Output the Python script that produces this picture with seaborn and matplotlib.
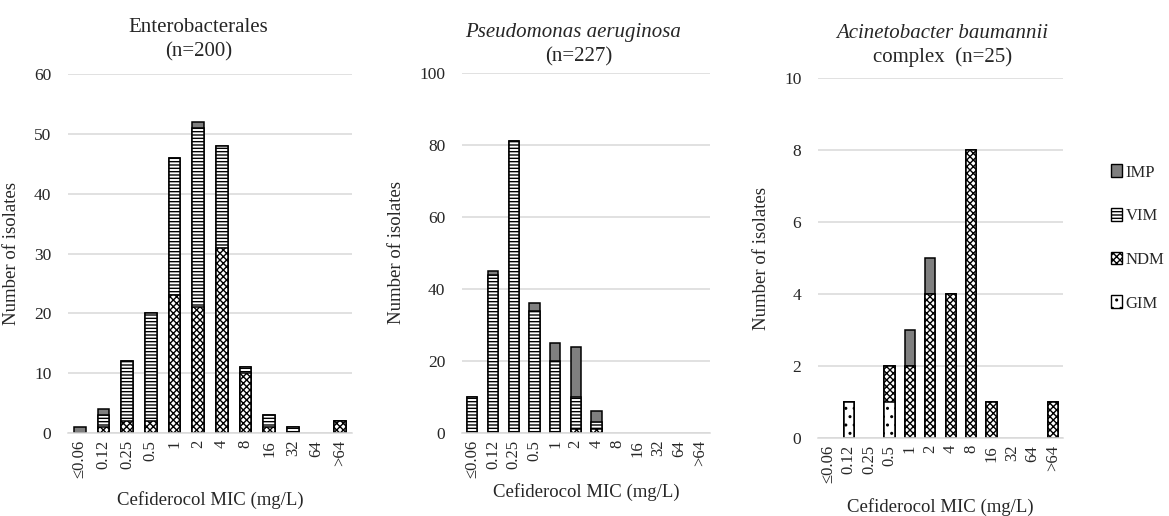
import matplotlib
matplotlib.use('Agg')
import matplotlib.pyplot as plt
from matplotlib.patches import Patch
import seaborn as sns
import pandas as pd

# MIC categories shared by all three panels
mic_labels = ['≤0.06', '0.12', '0.25', '0.5', '1', '2', '4', '8', '16', '32', '64', '>64']

# Enterobacterales (n=200)
ent_gim = [0, 0, 0, 0, 0, 0, 0, 0, 0, 0, 0, 0]
ent_ndm = [0, 1, 2, 2, 23, 21, 31, 10, 1, 0, 0, 2]
ent_vim = [0, 2, 10, 18, 23, 30, 17, 1, 2, 1, 0, 0]
ent_imp = [1, 1, 0, 0, 0, 1, 0, 0, 0, 0, 0, 0]

# Pseudomonas aeruginosa (n=227)
pae_gim = [0, 0, 0, 0, 0, 0, 0, 0, 0, 0, 0, 0]
pae_ndm = [0, 0, 0, 0, 0, 1, 1, 0, 0, 0, 0, 0]
pae_vim = [10, 44, 81, 34, 20, 9, 2, 0, 0, 0, 0, 0]
pae_imp = [0, 1, 0, 2, 5, 14, 3, 0, 0, 0, 0, 0]

# Acinetobacter baumannii complex (n=25)
aba_gim = [0, 1, 0, 1, 0, 0, 0, 0, 0, 0, 0, 0]
aba_ndm = [0, 0, 0, 1, 2, 4, 4, 8, 1, 0, 0, 1]
aba_vim = [0, 0, 0, 0, 0, 0, 0, 0, 0, 0, 0, 0]
aba_imp = [0, 0, 0, 0, 1, 1, 0, 0, 0, 0, 0, 0]

sns.set_style('white')
plt.rcParams['font.family'] = ['Liberation Serif', 'DejaVu Serif']
plt.rcParams['hatch.color'] = 'black'
plt.rcParams['hatch.linewidth'] = 1.0

grid_col = '#d9d9d9'
text_col = '#262626'

# style per enzyme (stacked bottom -> top: GIM, NDM, VIM, IMP)
styles = {
    'IMP': dict(color='#7f7f7f', hatch=None),
    'VIM': dict(color='white', hatch='-----'),
    'NDM': dict(color='white', hatch='xxxxx'),
    'GIM': dict(color='white', hatch='..'),
}


def stacked_panel(ax, gim, ndm, vim, imp, ymax, ystep):
    df = pd.DataFrame({'MIC': mic_labels, 'GIM': gim, 'NDM': ndm, 'VIM': vim, 'IMP': imp})
    df['c_GIM'] = df['GIM']
    df['c_NDM'] = df['c_GIM'] + df['NDM']
    df['c_VIM'] = df['c_NDM'] + df['VIM']
    df['c_IMP'] = df['c_VIM'] + df['IMP']
    # draw cumulative totals from the top layer down so lower layers overlay
    for name in ['IMP', 'VIM', 'NDM', 'GIM']:
        st = styles[name]
        sns.barplot(x='MIC', y='c_' + name, data=df, order=mic_labels, ax=ax,
                    color=st['color'], hatch=st['hatch'], edgecolor='black',
                    linewidth=1.1, width=0.5, saturation=1, errorbar=None)
    for p in ax.patches:
        if p.get_height() == 0:
            p.set_linewidth(0)
            p.set_hatch(None)
    ax.set_ylim(0, ymax)
    ax.set_yticks(range(0, ymax + 1, ystep))
    ax.set_xlim(-0.5, len(mic_labels) - 0.5)
    ax.yaxis.grid(True, color=grid_col, linewidth=1.1)
    ax.set_axisbelow(True)
    for s in ['top', 'right', 'left']:
        ax.spines[s].set_visible(False)
    ax.spines['bottom'].set_color(grid_col)
    ax.spines['bottom'].set_linewidth(1.1)
    ax.tick_params(axis='both', length=0, colors=text_col)
    ax.tick_params(axis='x', labelsize=12, rotation=90, pad=5)
    ax.tick_params(axis='y', labelsize=12.5, pad=12)
    ax.set_ylabel('Number of isolates', fontsize=13.5, color=text_col)
    ax.set_xlabel('Cefiderocol MIC (mg/L)', fontsize=13.5, color=text_col, va='center')


fig = plt.figure(figsize=(11.69, 5.16), dpi=100)
W, H = 1169, 516


def add_axes(left, right, top, bottom):
    return fig.add_axes([left / W, (H - bottom) / H, (right - left) / W, (bottom - top) / H])


ax1 = add_axes(68, 352, 74, 433)
ax2 = add_axes(462, 710, 73, 433)
ax3 = add_axes(818, 1063, 78, 438)

stacked_panel(ax1, ent_gim, ent_ndm, ent_vim, ent_imp, 60, 10)
stacked_panel(ax2, pae_gim, pae_ndm, pae_vim, pae_imp, 100, 20)
stacked_panel(ax3, aba_gim, aba_ndm, aba_vim, aba_imp, 10, 2)

ax1.yaxis.set_label_coords(-0.169, 0.5)
ax2.yaxis.set_label_coords(-0.23, 0.5)
ax3.yaxis.set_label_coords(-0.196, 0.5)
ax1.xaxis.set_label_coords(0.5, -0.187)
ax2.xaxis.set_label_coords(0.5, -0.164)
ax3.xaxis.set_label_coords(0.5, -0.192)

# panel titles (mixed italic / upright)
tsize = 15


def ftext(x, y, s, **kw):
    fig.text(x / W, 1 - y / H, s, ha='center', va='center', fontsize=tsize, color=text_col, **kw)


ftext(198, 27, 'Enterobacterales')
ftext(199, 52, '(n=200)')
ftext(573, 32, 'Pseudomonas aeruginosa', style='italic')
ftext(579, 57, '(n=227)')
ftext(942, 33, 'Acinetobacter baumannii', style='italic')
ftext(943, 57, 'complex  (n=25)')

handles = [Patch(facecolor=styles[n]['color'], hatch=styles[n]['hatch'], edgecolor='black',
                 linewidth=1, label=n) for n in ['IMP', 'VIM', 'NDM', 'GIM']]
fig.legend(handles=handles, loc='center left', bbox_to_anchor=(1098 / W, 1 - 238 / H),
           frameon=False, fontsize=12, handlelength=0.65, handleheight=0.8,
           handletextpad=0.2, labelspacing=1.65, borderpad=0.3, labelcolor=text_col)

fig.savefig('out.png', dpi=100)
plt.close(fig)
